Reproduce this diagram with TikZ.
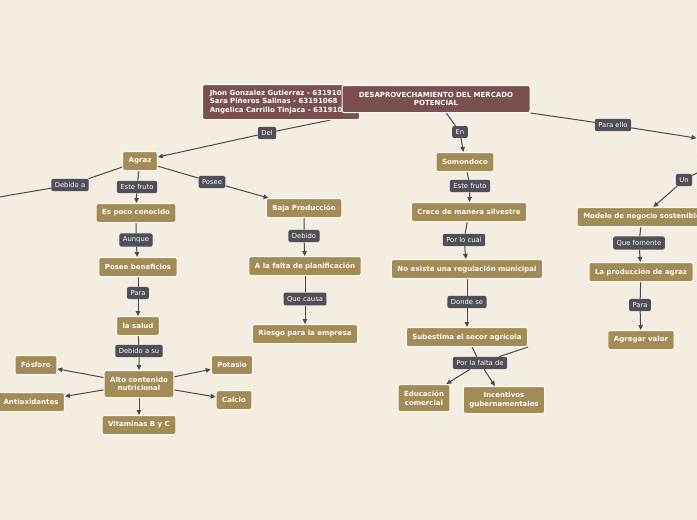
\documentclass[tikz,border=0pt]{standalone}
\usepackage{fontspec}
\setsansfont{DejaVu Sans}
\usetikzlibrary{positioning, arrows.meta, backgrounds}
\definecolor{paper}{HTML}{F3EDE2}
\definecolor{ochre}{HTML}{A38B55}
\definecolor{wine}{HTML}{7A4F50}
\definecolor{slate}{HTML}{4E4F57}
\definecolor{wire}{HTML}{4A4A50}

\begin{document}
\begin{tikzpicture}[
  x=1pt, y=-1pt,
  topic/.style={draw=white!70!paper, line width=1pt, fill=ochre, rounded corners=2pt, minimum height=19pt, inner xsep=6pt, inner ysep=3pt, font=\sffamily\bfseries\fontsize{7}{8.5}\selectfont, text=white, align=center},
  root/.style={topic, fill=wine},
  tag/.style={fill=slate, rounded corners=2pt, inner xsep=3.5pt, inner ysep=3.5pt, font=\sffamily\fontsize{6.8}{8}\selectfont, text=white},
  wired/.style={draw=wire, line width=1pt},
  >={Triangle[length=5pt,width=4.5pt]}
]
  \useasboundingbox (0,0) rectangle (697,520);
  \clip (0,0) rectangle (697,520);

  % Authors and main topic
  \node[root, align=left, minimum height=35pt, minimum width=157pt] (autores) at (281,102) {Jhon Gonzalez Gutierrez - 63191068\\Sara Piñeros Salinas - 63191068\\Angelica Carrillo Tinjaca - 63191068};
  \node[root, minimum width=188pt, minimum height=27pt] (raiz) at (436,99) {DESAPROVECHAMIENTO DEL MERCADO\\POTENCIAL};

  % Agraz branch
  \node[topic] (agraz) at (140,161) {Agraz};
  \node[topic] (poco) at (136,213) {Es poco conocido};
  \node[topic] (beneficios) at (138,267) {Posee beneficios};
  \node[topic] (salud) at (138,326) {la salud};
  \node[topic, minimum height=27pt] (alto) at (139,384) {Alto contenido\\nutricional};
  \node[topic] (fosforo) at (36,365) {Fósforo};
  \node[topic] (antiox) at (31,402) {Antioxidantes};
  \node[topic] (potasio) at (232,365) {Potasio};
  \node[topic] (calcio) at (234,400) {Calcio};
  \node[topic] (vitaminas) at (139,425) {Vitaminas B y C};

  % Baja produccion branch
  \node[topic] (baja) at (304,208) {Baja Producción};
  \node[topic] (planif) at (305,266) {A la falta de planificación};
  \node[topic] (riesgo) at (305,334) {Riesgo para la empresa};

  % Somondoco branch
  \node[topic] (somondoco) at (465,162) {Somondoco};
  \node[topic] (silvestre) at (469,212) {Crece de manera silvestre};
  \node[topic] (regulacion) at (467,269) {No existe una regulación municipal};
  \node[topic] (subestima) at (467,337) {Subestima el secor agrícola};
  \node[topic, minimum height=27pt] (educacion) at (424,398) {Educación\\comercial};
  \node[topic, minimum height=27pt] (incentivos) at (504,400) {Incentivos\\gubernamentales};

  % Right branch
  \node[topic, minimum width=100pt] (oculto) at (747,146) {};
  \node[topic, minimum width=130pt] (modelo) at (642,217) {Modelo de negocio sostenible};
  \node[topic] (produccion) at (641,272) {La producción de agraz};
  \node[topic] (valor) at (641,340) {Agregar valor};
  \coordinate (fuera) at (-60,207);

  % Connector labels
  \node[tag] (ldel) at (267,133) {Del};
  \node[tag] (len) at (460,132) {En};
  \node[tag] (lparaello) at (613,125) {Para ello};
  \node[tag] (ldebido) at (70,185) {Debido a};
  \node[tag] (lfruto) at (137,187) {Este fruto};
  \node[tag] (lposee) at (212,182) {Posee};
  \node[tag] (launque) at (136,240) {Aunque};
  \node[tag] (lpara) at (138,293) {Para};
  \node[tag] (ldebidosu) at (139,351) {Debido a su};
  \node[tag] (ldebidoplan) at (304,236) {Debido};
  \node[tag] (lcausa) at (305,299) {Que causa};
  \node[tag] (lfrutosom) at (470,186) {Este fruto};
  \node[tag] (lcual) at (464,240) {Por lo cual};
  \node[tag] (ldonde) at (467,302) {Donde se};
  \node[tag] (lfalta) at (480,363) {Por la falta de};
  \node[tag] (lun) at (684,180) {Un};
  \node[tag] (lfomente) at (639,243) {Que fomente};
  \node[tag] (lparavalor) at (640,305) {Para};

  \begin{scope}[on background layer]
    \fill[paper] (0,0) rectangle (697,520);
    \clip (0,0) rectangle (697,520);
    % Main topics
    \draw[wired, ->] (autores.-20) -- (ldel) -- (agraz);
    \draw[wired, ->] (raiz) -- (len) -- (somondoco);
    \draw[wired, ->] (raiz.south east) -- (lparaello) -- (oculto);
    % Agraz
    \draw[wired] (agraz) -- (ldebido) -- (fuera);
    \draw[wired, ->] (agraz) -- (lfruto) -- (poco);
    \draw[wired, ->] (agraz) -- (lposee) -- (baja);
    \draw[wired, ->] (poco) -- (launque) -- (beneficios);
    \draw[wired, ->] (beneficios) -- (lpara) -- (salud);
    \draw[wired, ->] (salud) -- (ldebidosu) -- (alto);
    \foreach \n in {fosforo, antiox, potasio, calcio, vitaminas} {
      \draw[wired, ->] (alto) -- (\n);
    }
    % Baja produccion
    \draw[wired, ->] (baja) -- (ldebidoplan) -- (planif);
    \draw[wired, ->] (planif) -- (lcausa) -- (riesgo);
    % Somondoco
    \draw[wired, ->] (somondoco) -- (lfrutosom) -- (silvestre);
    \draw[wired, ->] (silvestre) -- (lcual) -- (regulacion);
    \draw[wired, ->] (regulacion) -- (ldonde) -- (subestima);
    \draw[wired, ->] (subestima.south east) -- (lfalta) -- (educacion);
    \draw[wired, ->] (subestima) -- (lfalta) -- (incentivos);
    % Right side
    \draw[wired, ->] (oculto) -- (lun) -- (modelo);
    \draw[wired, ->] (modelo) -- (lfomente) -- (produccion);
    \draw[wired, ->] (produccion) -- (lparavalor) -- (valor);
  \end{scope}
\end{tikzpicture}
\end{document}
